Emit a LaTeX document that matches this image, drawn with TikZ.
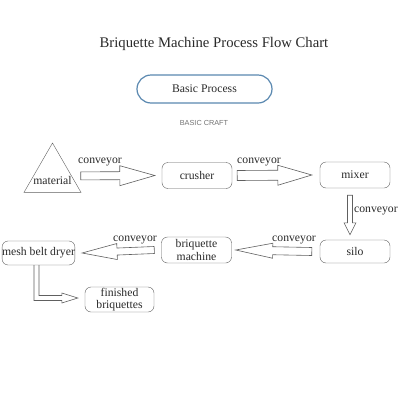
\documentclass[tikz,border=0pt]{standalone}
\usepackage{fontspec}
\setmainfont{Liberation Serif}
\newfontfamily\craftfont{Liberation Sans}
\usepackage{xcolor}
\usepackage{tikz}
\usetikzlibrary{calc}
\usetikzlibrary{shapes.geometric}

\definecolor{lineg}{HTML}{606060}
\definecolor{textg}{HTML}{2A2A2A}
\definecolor{pillblue}{HTML}{5A88B0}

% hollow block arrow: start, tip, shaft half width, head half width, head length
\newcommand{\blockarrow}[5]{%
  \draw[arrowline] ($(#1)!#3!90:(#2)$) -- ($($(#2)!#5!(#1)$)!#3!90:(#2)$)
    -- ($($(#2)!#5!(#1)$)!#4!90:(#2)$) -- (#2)
    -- ($($(#2)!#5!(#1)$)!#4!-90:(#2)$) -- ($($(#2)!#5!(#1)$)!#3!-90:(#2)$)
    -- ($(#1)!#3!-90:(#2)$) -- cycle;}

\begin{document}
\begin{tikzpicture}[x=1pt,y=-1pt,
  box/.style={draw=lineg, rounded corners=6pt, minimum width=70pt, minimum height=26pt,
    inner sep=0pt, align=center, font=\fontsize{11.7}{12.5}\selectfont, text=textg},
  arrowline/.style={draw=lineg, line width=0.6pt, line join=miter},
  conv/.style={font=\fontsize{11.7}{12}\selectfont, text=textg, inner sep=0pt}]
\useasboundingbox[fill=white] (0,0) rectangle (400,400);

\node[font=\fontsize{14.7}{16}\selectfont, text=textg] (title) at (214,44) {Briquette Machine Process Flow Chart};

\node[draw=pillblue, line width=1.2pt, rounded corners=14pt, minimum width=135pt, minimum height=28pt,
  font=\fontsize{11.7}{12}\selectfont, text=textg] (basic) at (204.5,89) {Basic Process};
\node[font=\craftfont\fontsize{7.3}{8}\selectfont, text=black!55] (craft) at (204,123) {BASIC CRAFT};

% boxes
\node[regular polygon, regular polygon sides=3, minimum size=65.8pt, draw=lineg, inner sep=0pt] (material) at (52.5,175.9) {};
\node[conv] (matlabel) at (52.5,180) {material};
\node[box] (crusher) at (197,175.5) {crusher};
\node[box] (mixer) at (355,175) {mixer};
\node[box, minimum height=23pt] (silo) at (355,251.5) {silo};
\node[box] (bm) at (196.5,250) {briquette\\machine};
\node[box, minimum width=69pt, minimum height=24pt] (dryer) at (38.5,253) {mesh belt dryer};
\node[box, minimum width=69pt, minimum height=25pt] (finished) at (119.5,299.5) {finished\\briquettes};

% arrows
\coordinate (c1s) at ([xshift=9pt]material.east);
\coordinate (c1t) at ([xshift=-7pt]crusher.west);
\blockarrow{c1s}{c1t}{4pt}{10pt}{35pt}
\node[conv] at (100,162) {conveyor};

\coordinate (c2s) at ([xshift=5pt]crusher.east);
\coordinate (c2t) at ([xshift=-8pt]mixer.west);
\blockarrow{c2s}{c2t}{5pt}{10pt}{34pt}
\node[conv] at (259,162) {conveyor};

\coordinate (c3s) at ([xshift=-5pt,yshift=-7pt]mixer.south);
\coordinate (c3t) at ([xshift=-5pt,yshift=5pt]silo.north);
\blockarrow{c3s}{c3t}{2.5pt}{6pt}{12pt}
\node[conv, anchor=west] at (354,211) {conveyor};

\coordinate (c4s) at ([xshift=-8pt]silo.west);
\coordinate (c4t) at ([xshift=4pt]bm.east);
\blockarrow{c4s}{c4t}{4pt}{7.5pt}{37pt}
\node[conv] at (294,240) {conveyor};

\coordinate (c5s) at ([xshift=-7pt]bm.west);
\coordinate (c5t) at ([xshift=7pt]dryer.east);
\blockarrow{c5s}{c5t}{3.5pt}{8pt}{35pt}
\node[conv] at (135,240) {conveyor};

\coordinate (ltop) at ([xshift=-2pt]dryer.south);
\coordinate (ltip) at ([xshift=-7pt,yshift=1.5pt]finished.west);
\draw[arrowline] ([xshift=-2.5pt]ltop) |- ([xshift=-16pt,yshift=-2.5pt]ltip)
  -- ([xshift=-16pt,yshift=-5pt]ltip) -- (ltip) -- ([xshift=-16pt,yshift=5pt]ltip)
  -- ([xshift=-16pt,yshift=2.5pt]ltip) -| ([xshift=2.5pt]ltop);
\end{tikzpicture}
\end{document}
